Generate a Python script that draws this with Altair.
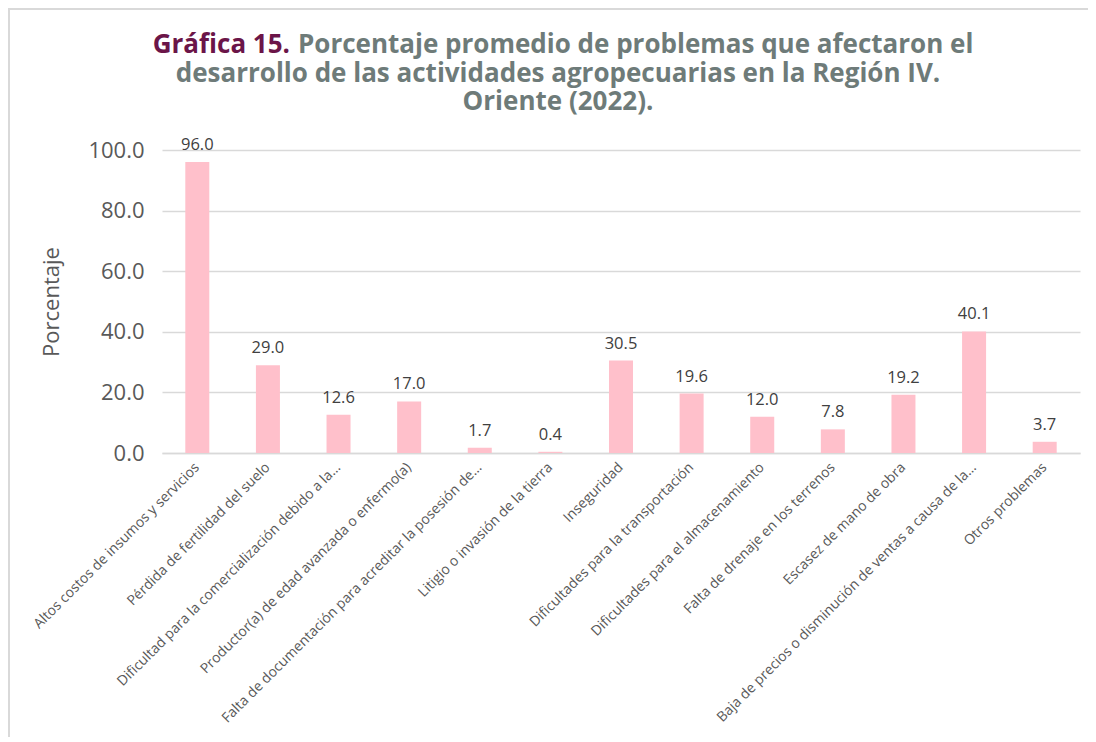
import altair as alt
import pandas as pd

categories = [
    "Altos costos de insumos y servicios",
    "Pérdida de fertilidad del suelo",
    "Dificultad para la comercialización debido a la…",
    "Productor(a) de edad avanzada o enfermo(a)",
    "Falta de documentación para acreditar la posesión de…",
    "Litigio o invasión de la tierra",
    "Inseguridad",
    "Dificultades para la transportación",
    "Dificultades para el almacenamiento",
    "Falta de drenaje en los terrenos",
    "Escasez de mano de obra",
    "Baja de precios o disminución de ventas a causa de la…",
    "Otros problemas",
]
values = [96.0, 29.0, 12.6, 17.0, 1.7, 0.4, 30.5, 19.6, 12.0, 7.8, 19.2, 40.1, 3.7]
y_ticks = [0, 20, 40, 60, 80, 100]

title_prefix = "Gráfica 15."
title_line1 = "Porcentaje promedio de problemas que afectaron el"
title_line2 = "desarrollo de las actividades agropecuarias en la Región IV."
title_line3 = "Oriente (2022)."

df = pd.DataFrame({"categoria": categories, "porcentaje": values})

W, H = 918, 303
FONT = "Open Sans"
TFONT = "Open Sans"
TSIZE = 26
GRAY = "#595959"
GRID = "#D9D9D9"
MAROON = "#6B1548"
TGRAY = "#6E7B79"

base = alt.Chart(df)

bars = base.mark_bar(color="#FFC0CB").encode(
    x=alt.X(
        "categoria:N",
        sort=categories,
        scale=alt.Scale(paddingInner=0.66, paddingOuter=0.33),
        axis=alt.Axis(
            title=None,
            labelAngle=-45,
            labelFont=FONT,
            labelFontSize=14,
            labelColor=GRAY,
            labelLimit=400,
            labelPadding=7,
            labelOffset=-5,
            ticks=False,
            grid=False,
            domainColor=GRID,
            domainWidth=1.5,
        ),
    ),
    y=alt.Y(
        "porcentaje:Q",
        scale=alt.Scale(domain=[0, 100]),
        axis=alt.Axis(
            values=y_ticks,
            format=".1f",
            title="Porcentaje",
            titleFont=FONT,
            titleFontSize=22,
            titleFontWeight="normal",
            titleColor=GRAY,
            titlePadding=24,
            labelFont=FONT,
            labelFontSize=22,
            labelColor=GRAY,
            labelPadding=18,
            ticks=False,
            domain=False,
            gridColor=GRID,
            gridWidth=1.5,
        ),
    ),
)

labels = base.mark_text(
    baseline="bottom", dy=-9, font=FONT, fontSize=16.5, color="#404040"
).encode(
    x=alt.X("categoria:N", sort=categories),
    y="porcentaje:Q",
    text=alt.Text("porcentaje:Q", format=".1f"),
)

one = alt.Data(values=[{}])

t_prefix = alt.Chart(one).mark_text(
    text=title_prefix, font=TFONT, fontSize=TSIZE, fontWeight="bold",
    color=MAROON, align="right", baseline="alphabetic",
).encode(x=alt.value(128), y=alt.value(-97))

t_l1 = alt.Chart(one).mark_text(
    text=title_line1, font=TFONT, fontSize=TSIZE, fontWeight="bold",
    color=TGRAY, align="left", baseline="alphabetic",
).encode(x=alt.value(136), y=alt.value(-97))

t_l2 = alt.Chart(one).mark_text(
    text=title_line2, font=TFONT, fontSize=TSIZE, fontWeight="bold",
    color=TGRAY, align="center", baseline="alphabetic",
).encode(x=alt.value(396), y=alt.value(-68))

t_l3 = alt.Chart(one).mark_text(
    text=title_line3, font=TFONT, fontSize=TSIZE, fontWeight="bold",
    color=TGRAY, align="center", baseline="alphabetic",
).encode(x=alt.value(396), y=alt.value(-40))

border_left = alt.Chart(one).mark_rule(color=GRID, strokeWidth=2).encode(
    x=alt.value(-153), y=alt.value(-141), y2=alt.value(600)
)
border_top = alt.Chart(one).mark_rule(color=GRID, strokeWidth=2).encode(
    x=alt.value(-154), x2=alt.value(930), y=alt.value(-141)
)

chart = (
    alt.layer(bars, labels, t_prefix, t_l1, t_l2, t_l3, border_left, border_top)
    .properties(
        width=W,
        height=H,
        autosize=alt.AutoSizeParams(type="none"),
        padding={"left": 154, "top": 142, "right": 8, "bottom": 284},
        view=alt.ViewBackground(stroke="transparent", strokeWidth=0),
    )
    .configure_view(strokeWidth=0, stroke="transparent")
    .configure_axis(grid=True)
    .configure(background="white")
)

chart.save("out.html", embed_options={"renderer": "svg", "actions": False})
